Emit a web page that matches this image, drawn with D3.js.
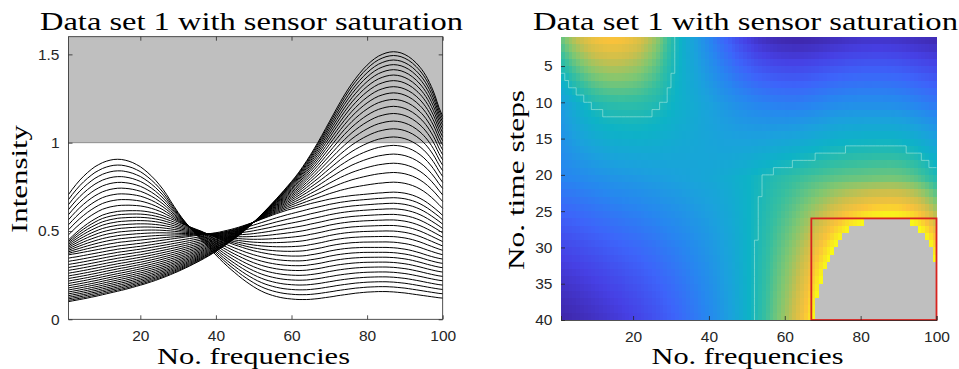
<!DOCTYPE html>
<html lang="en">
<head>
<meta charset="utf-8">
<title>Data set 1 with sensor saturation</title>
<script src="https://d3js.org/d3.v7.min.js"></script>
<style>
body { margin: 0; background: #fff; }
svg { display: block; }
.tick text { font-family: "Liberation Sans", Arial, sans-serif; font-size: 15.5px; fill: #262626; }
.tick line { stroke: #262626; stroke-width: 0.8; }
.serif { font-family: "Liberation Serif", "Times New Roman", serif; fill: #000; }
</style>
</head>
<body>
<script>
// frequencies and time steps
var freqs = d3.range(1, 101);
var steps = d3.range(1, 41);

// intensity at time step 1, one value per frequency
var curveT1 = [.706,.736,.763,.788,.81,.83,.848,.864,.876,.887,.895,.901,.905,.906,.905,.901,.895,.887,.876,.864,
  .848,.83,.81,.788,.763,.736,.705,.67,.637,.605,.575,.548,.522,.498,.475,.453,.431,.409,.387,.364,
  .342,.321,.301,.282,.264,.246,.229,.213,.198,.184,.171,.16,.15,.142,.135,.129,.124,.12,.117,.115,
  .113,.112,.112,.112,.113,.115,.117,.12,.123,.126,.129,.133,.136,.139,.142,.145,.148,.15,.152,.154,
  .155,.156,.157,.157,.157,.156,.155,.153,.151,.149,.146,.143,.14,.137,.134,.131,.128,.125,.122,.12];

// intensity at time step 10
var curveT10 = [.45,.47,.49,.508,.525,.541,.555,.568,.58,.59,.597,.603,.607,.611,.613,.614,.615,.615,.615,.614,
  .612,.609,.605,.6,.594,.587,.578,.57,.56,.55,.54,.532,.524,.516,.508,.5,.49,.481,.472,.463,
  .454,.445,.437,.429,.421,.414,.407,.4,.394,.388,.383,.378,.374,.37,.367,.364,.362,.36,.359,.358,
  .358,.358,.359,.361,.365,.368,.372,.376,.381,.386,.39,.394,.397,.4,.402,.404,.405,.406,.407,.407,
  .407,.407,.407,.407,.407,.406,.405,.403,.4,.397,.393,.388,.382,.376,.369,.362,.356,.35,.345,.341];

// intensity at time step 20
var curveT20 = [.365,.369,.372,.376,.38,.384,.388,.392,.396,.4,.404,.408,.411,.415,.418,.42,.423,.425,.428,.43,
  .433,.436,.439,.442,.445,.448,.451,.454,.457,.46,.463,.466,.469,.472,.475,.478,.481,.484,.487,.49,
  .494,.499,.504,.509,.515,.521,.528,.535,.542,.55,.558,.566,.574,.582,.59,.598,.605,.612,.619,.625,
  .631,.637,.643,.649,.655,.66,.665,.67,.675,.68,.684,.688,.692,.695,.698,.701,.703,.705,.707,.709,
  .711,.713,.715,.716,.718,.719,.72,.719,.717,.714,.709,.703,.695,.685,.673,.659,.643,.626,.608,.588];

// intensity at time step 40
var curveT40 = [.1,.104,.108,.112,.116,.12,.125,.129,.134,.139,.144,.149,.154,.159,.164,.169,.175,.181,.187,.193,
  .199,.206,.213,.22,.228,.236,.244,.253,.262,.271,.281,.291,.301,.312,.323,.334,.346,.358,.371,.384,
  .398,.412,.427,.442,.458,.474,.491,.51,.53,.55,.571,.592,.614,.636,.659,.682,.706,.73,.755,.78,
  .806,.834,.865,.897,.931,.966,1.002,1.04,1.079,1.118,1.157,1.196,1.234,1.27,1.304,1.336,1.365,1.392,1.417,1.439,
  1.459,1.476,1.49,1.5,1.508,1.513,1.515,1.513,1.508,1.499,1.487,1.471,1.451,1.427,1.398,1.362,1.318,1.265,1.2,1.15];

// share of each key curve in every time step
var wT1 = [1,.889,.778,.667,.556,.444,.333,.222,.111,0, 0,0,0,0,0,0,0,0,0,0,
  0,0,0,0,0,0,0,0,0,0, 0,0,0,0,0,0,0,0,0,0];
var wT10 = [0,.111,.222,.333,.444,.556,.667,.778,.889,1, .9,.8,.7,.6,.5,.4,.3,.2,.1,0,
  0,0,0,0,0,0,0,0,0,0, 0,0,0,0,0,0,0,0,0,0];
var wT20 = [0,0,0,0,0,0,0,0,0,0, .1,.2,.3,.4,.5,.6,.7,.8,.9,1,
  .929,.86,.794,.729,.667,.607,.549,.494,.44,.389,.34,.293,.249,.206,.166,.128,.092,.059,.027,0];
var wT40 = [0,0,0,0,0,0,0,0,0,0, 0,0,0,0,0,0,0,0,0,0,
  .071,.14,.206,.271,.333,.393,.451,.506,.56,.611,.66,.707,.751,.794,.834,.872,.908,.941,.973,1];

var xTicks = [20, 40, 60, 80, 100];
var yTicksLeft = [0, 0.5, 1, 1.5];
var yTicksRight = [5, 10, 15, 20, 25, 30, 35, 40];
var saturation = 1;
var outlineLevel = 0.58;

// parula-like colour map
var parula = ["#3e26a8","#4640e4","#3d64fa","#2786f0","#1ba1dd","#0db3c6","#36bfa0","#80c771","#cbbf4c","#fbc23a","#f9fb15"];

var values = steps.map(function(t, j) {
	return freqs.map(function(f, i) {
		return wT1[j] * curveT1[i] + wT10[j] * curveT10[i] + wT20[j] * curveT20[i] + wT40[j] * curveT40[i];
	});
});

var w = 959, h = 369;
var svg = d3.select("body").append("svg").attr("width", w).attr("height", h);

// ---------------- left panel: line plot ----------------
var L = {x0: 68.5, x1: 442.7, y0: 36.7, y1: 319.3};
var xL = d3.scaleLinear().domain([1, 100]).range([L.x0, L.x1]);
var yL = d3.scaleLinear().domain([0, 1.6]).range([L.y1, L.y0]);

var left = svg.append("g");

left.append("rect")
	.attr("x", xL(1)).attr("y", yL(1.6))
	.attr("width", xL(100) - xL(1)).attr("height", yL(saturation) - yL(1.6))
	.attr("fill", "#bfbfbf");
left.append("line")
	.attr("x1", xL(1)).attr("x2", xL(100))
	.attr("y1", yL(saturation)).attr("y2", yL(saturation))
	.attr("stroke", "#7a7a7a").attr("stroke-width", 0.8);

var line = d3.line()
	.x(function(d, i) { return xL(freqs[i]); })
	.y(function(d) { return yL(d); })
	.curve(d3.curveMonotoneX);

left.selectAll(".curve")
	.data(values)
	.enter().append("path")
	.attr("class", "curve")
	.attr("d", line)
	.attr("fill", "none")
	.attr("stroke", "#000")
	.attr("stroke-width", 1);

left.append("g").attr("transform", "translate(0," + L.y1 + ")")
	.call(d3.axisBottom(xL).tickValues(xTicks).tickSize(-4).tickPadding(10.5))
	.call(function(g) { g.select(".domain").remove(); });
left.append("g").attr("transform", "translate(0," + L.y0 + ")")
	.call(d3.axisTop(xL).tickValues(xTicks).tickSize(-4).tickFormat(""))
	.call(function(g) { g.select(".domain").remove(); });
left.append("g").attr("transform", "translate(" + L.x0 + ",0)")
	.call(d3.axisLeft(yL).tickValues(yTicksLeft).tickSize(-4).tickPadding(9).tickFormat(d3.format("~g")))
	.call(function(g) { g.select(".domain").remove(); });
left.append("g").attr("transform", "translate(" + L.x1 + ",0)")
	.call(d3.axisRight(yL).tickValues(yTicksLeft).tickSize(-4).tickFormat(""))
	.call(function(g) { g.select(".domain").remove(); });

left.append("rect")
	.attr("x", L.x0).attr("y", L.y0)
	.attr("width", L.x1 - L.x0).attr("height", L.y1 - L.y0)
	.attr("fill", "none").attr("stroke", "#262626").attr("stroke-width", 0.8);

// ---------------- right panel: heat map ----------------
var R = {x0: 561, x1: 936.5, y0: 37, y1: 320};
var xR = d3.scaleLinear().domain([1, 100]).range([R.x0, R.x1]);
var yR = d3.scaleLinear().domain([1, 40]).range([R.y0, R.y1]);

var flat = d3.merge(values);
var vmin = d3.min(flat);
var vmax = d3.max(flat.filter(function(v) { return v <= saturation; }));
var color = d3.scaleLinear()
	.domain(parula.map(function(c, k) { return vmin + (vmax - vmin) * k / (parula.length - 1); }))
	.range(parula)
	.interpolate(d3.interpolateRgb);

var right = svg.append("g");

// pcolor style: cell (f, t) spans [f, f+1] x [t, t+1]
var cells = [];
steps.slice(0, -1).forEach(function(t, j) {
	freqs.slice(0, -1).forEach(function(f, i) {
		cells.push({f: f, t: t, v: values[j][i]});
	});
});

right.selectAll(".cell")
	.data(cells)
	.enter().append("rect")
	.attr("class", "cell")
	.attr("x", function(d) { return xR(d.f); })
	.attr("y", function(d) { return yR(d.t); })
	.attr("width", function(d) { return xR(d.f + 1) - xR(d.f) + 0.3; })
	.attr("height", function(d) { return yR(d.t + 1) - yR(d.t) + 0.3; })
	.attr("fill", function(d) { return d.v > saturation ? "#bfbfbf" : color(d.v); })
	.attr("shape-rendering", "crispEdges");

// faint level outline between cells
var segs = [];
for (var j = 0; j < steps.length - 1; j++) {
	for (var i = 0; i < freqs.length - 2; i++) {
		if ((values[j][i] >= outlineLevel) !== (values[j][i + 1] >= outlineLevel))
			segs.push([freqs[i + 1], steps[j], freqs[i + 1], steps[j + 1]]);
	}
}
for (var j2 = 0; j2 < steps.length - 2; j2++) {
	for (var i2 = 0; i2 < freqs.length - 1; i2++) {
		if ((values[j2][i2] >= outlineLevel) !== (values[j2 + 1][i2] >= outlineLevel))
			segs.push([freqs[i2], steps[j2 + 1], freqs[i2 + 1], steps[j2 + 1]]);
	}
}
right.selectAll(".lvl")
	.data(segs)
	.enter().append("line")
	.attr("class", "lvl")
	.attr("x1", function(d) { return xR(d[0]); })
	.attr("y1", function(d) { return yR(d[1]); })
	.attr("x2", function(d) { return xR(d[2]); })
	.attr("y2", function(d) { return yR(d[3]); })
	.attr("stroke", "#a8e8de")
	.attr("stroke-opacity", 0.75)
	.attr("stroke-width", 0.8);

// bounding box of the saturated region
var satF = [], satT = [];
values.forEach(function(row, j) {
	row.forEach(function(v, i) {
		if (v > saturation) { satF.push(freqs[i]); satT.push(steps[j]); }
	});
});
right.append("rect")
	.attr("x", xR(d3.min(satF))).attr("y", yR(d3.min(satT)))
	.attr("width", xR(d3.max(satF)) - xR(d3.min(satF)))
	.attr("height", yR(d3.max(satT)) - yR(d3.min(satT)))
	.attr("fill", "none").attr("stroke", "#d8231f").attr("stroke-width", 1.8);

right.append("g").attr("transform", "translate(0," + R.y1 + ")")
	.call(d3.axisBottom(xR).tickValues(xTicks).tickSize(-4).tickPadding(10.5))
	.call(function(g) { g.select(".domain").attr("stroke", "#262626").attr("stroke-width", 0.8); });
right.append("g").attr("transform", "translate(" + R.x0 + ",0)")
	.call(d3.axisLeft(yR).tickValues(yTicksRight).tickSize(-4).tickPadding(8.5))
	.call(function(g) { g.select(".domain").remove(); });

// ---------------- titles and labels ----------------
function serifText(x, y, str, size, len, rot) {
	var t = svg.append("text")
		.attr("class", "serif")
		.attr("text-anchor", "middle")
		.style("font-size", size + "px")
		.attr("textLength", len)
		.attr("lengthAdjust", "spacingAndGlyphs")
		.text(str);
	if (rot) t.attr("transform", "translate(" + x + "," + y + ") rotate(-90)");
	else t.attr("x", x).attr("y", y);
}

serifText(251.5, 29.5, "Data set 1 with sensor saturation", 25, 423);
serifText(745.5, 29.5, "Data set 1 with sensor saturation", 25, 425);
serifText(253.5, 364, "No. frequencies", 23, 193);
serifText(747.5, 364, "No. frequencies", 23, 192);
serifText(27, 179, "Intensity", 24, 108, true);
serifText(523.5, 180, "No. time steps", 24, 180, true);
</script>
</body>
</html>
